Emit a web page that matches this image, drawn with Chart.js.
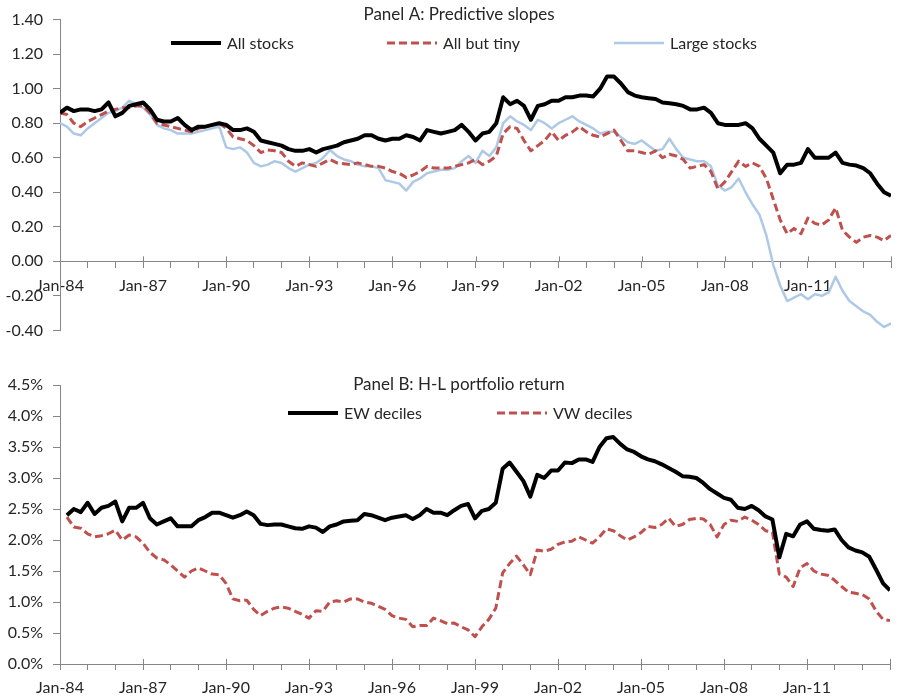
<!DOCTYPE html>
<html>
<head>
<meta charset="utf-8">
<script src="https://cdn.jsdelivr.net/npm/chart.js@4.4.1/dist/chart.umd.min.js"></script>
<style>
  body { margin: 0; background: #fff; }
  #wrap { position: relative; width: 900px; height: 700px; }
  canvas { position: absolute; left: 0; }
</style>
</head>
<body>
<div id="wrap">
  <canvas id="panel-a" width="900" height="350" style="top:0"></canvas>
  <canvas id="panel-b" width="900" height="345" style="top:355px"></canvas>
</div>
<script>
// Quarterly observations, Jan-84 through Jan-14
const START_YEAR = 1984;
const STEP = 0.25;
const xTickLabels = ['Jan-84', 'Jan-87', 'Jan-90', 'Jan-93', 'Jan-96', 'Jan-99', 'Jan-02', 'Jan-05', 'Jan-08', 'Jan-11'];

// Panel A: predictive slopes
const allStocks = [
  0.86, 0.89, 0.87, 0.88,  0.88, 0.87, 0.88, 0.92,  0.84, 0.86, 0.90, 0.91,
  0.92, 0.88, 0.82, 0.81,  0.81, 0.83, 0.79, 0.76,  0.78, 0.78, 0.79, 0.80,
  0.79, 0.76, 0.76, 0.77,  0.75, 0.70, 0.69, 0.68,  0.67, 0.65, 0.64, 0.64,
  0.65, 0.63, 0.65, 0.66,  0.67, 0.69, 0.70, 0.71,  0.73, 0.73, 0.71, 0.70,
  0.71, 0.71, 0.73, 0.72,  0.70, 0.76, 0.75, 0.74,  0.75, 0.76, 0.79, 0.75,
  0.70, 0.74, 0.75, 0.80,  0.95, 0.91, 0.93, 0.90,  0.82, 0.90, 0.91, 0.93,
  0.93, 0.95, 0.95, 0.96,  0.96, 0.955, 1.00, 1.07, 1.07, 1.03, 0.98, 0.96,
  0.95, 0.945, 0.94, 0.92, 0.915, 0.91, 0.90, 0.88, 0.88, 0.89, 0.86, 0.80,
  0.79, 0.79, 0.79, 0.80,  0.77, 0.71, 0.67, 0.63,  0.51, 0.56, 0.56, 0.57,
  0.65, 0.60, 0.60, 0.60,  0.63, 0.57, 0.56, 0.555, 0.54, 0.51, 0.45, 0.40,
  0.38
];
const allButTiny = [
  0.86, 0.85, 0.80, 0.78,  0.81, 0.83, 0.85, 0.87,  0.88, 0.89, 0.89, 0.90,
  0.90, 0.86, 0.80, 0.79,  0.78, 0.77, 0.76, 0.75,  0.77, 0.78, 0.79, 0.80,
  0.77, 0.72, 0.71, 0.70,  0.67, 0.63, 0.645, 0.64, 0.63, 0.58, 0.55, 0.57,
  0.56, 0.55, 0.57, 0.59,  0.57, 0.565, 0.56, 0.57, 0.56, 0.55, 0.55, 0.54,
  0.52, 0.51, 0.485, 0.50, 0.52, 0.55, 0.54, 0.54, 0.54, 0.55, 0.56, 0.57,
  0.59, 0.56, 0.58, 0.61,  0.74, 0.78, 0.77, 0.70,  0.64, 0.67, 0.70, 0.75,
  0.70, 0.73, 0.75, 0.78,  0.75, 0.73, 0.72, 0.74,  0.76, 0.70, 0.64, 0.64,
  0.63, 0.62, 0.64, 0.60,  0.62, 0.61, 0.59, 0.54,  0.55, 0.56, 0.52, 0.42,
  0.46, 0.52, 0.58, 0.55,  0.57, 0.55, 0.48, 0.36,  0.24, 0.16, 0.19, 0.16,
  0.25, 0.22, 0.21, 0.24,  0.31, 0.18, 0.14, 0.11,  0.14, 0.15, 0.14, 0.12,
  0.15
];
const largeStocks = [
  0.80, 0.78, 0.74, 0.73,  0.77, 0.80, 0.83, 0.86,  0.87, 0.89, 0.93, 0.91,
  0.89, 0.85, 0.79, 0.77,  0.76, 0.74, 0.74, 0.74,  0.75, 0.76, 0.77, 0.78,
  0.66, 0.65, 0.66, 0.63,  0.57, 0.55, 0.56, 0.58,  0.57, 0.54, 0.52, 0.54,
  0.56, 0.57, 0.60, 0.645, 0.61, 0.59, 0.58, 0.56,  0.55, 0.55, 0.54, 0.47,
  0.46, 0.45, 0.41, 0.46,  0.48, 0.51, 0.52, 0.53,  0.53, 0.54, 0.58, 0.61,
  0.57, 0.64, 0.61, 0.66,  0.80, 0.84, 0.81, 0.79,  0.76, 0.82, 0.80, 0.77,
  0.80, 0.82, 0.84, 0.81,  0.79, 0.77, 0.74, 0.75,  0.75, 0.72, 0.69, 0.68,
  0.70, 0.67, 0.64, 0.65,  0.71, 0.65, 0.60, 0.59,  0.58, 0.58, 0.55, 0.44,
  0.41, 0.43, 0.48, 0.40,  0.33, 0.27, 0.15, -0.02, -0.14, -0.23, -0.21, -0.19,
  -0.22, -0.19, -0.20, -0.18, -0.09, -0.17, -0.23, -0.26, -0.29, -0.31, -0.35, -0.38,
  -0.36
];

// Panel B: H-L portfolio return, % per month
const ewDeciles = [
  null, 2.40, 2.50, 2.45,  2.60, 2.42, 2.52, 2.55,  2.62, 2.30, 2.52, 2.52,
  2.60, 2.35, 2.25, 2.30,  2.35, 2.22, 2.22, 2.22,  2.32, 2.37, 2.44, 2.44,
  2.40, 2.36, 2.40, 2.46,  2.40, 2.26, 2.24, 2.25,  2.25, 2.22, 2.19, 2.18,
  2.22, 2.20, 2.13, 2.22,  2.25, 2.30, 2.31, 2.32,  2.42, 2.40, 2.36, 2.32,
  2.36, 2.38, 2.40, 2.34,  2.40, 2.50, 2.44, 2.44,  2.40, 2.48, 2.55, 2.58,
  2.35, 2.47, 2.50, 2.60,  3.15, 3.25, 3.10, 2.95,  2.70, 3.05, 3.00, 3.12,
  3.12, 3.25, 3.24, 3.30,  3.30, 3.26, 3.50, 3.64,  3.66, 3.55, 3.46, 3.42,
  3.35, 3.30, 3.27, 3.22,  3.16, 3.10, 3.03, 3.02,  3.00, 2.92, 2.82, 2.75,
  2.68, 2.65, 2.52, 2.50,  2.55, 2.48, 2.38, 2.33,  1.72, 2.10, 2.06, 2.25,
  2.30, 2.18, 2.16, 2.15,  2.17, 2.00, 1.88, 1.83,  1.80, 1.73, 1.52, 1.30,
  1.19
];
const vwDeciles = [
  null, 2.37, 2.21, 2.19,  2.10, 2.05, 2.07, 2.10,  2.16, 2.00, 2.08, 2.05,
  1.95, 1.80, 1.71, 1.68,  1.60, 1.50, 1.40, 1.50,  1.55, 1.50, 1.45, 1.44,
  1.30, 1.05, 1.02, 1.03,  0.88, 0.78, 0.85, 0.90,  0.92, 0.90, 0.85, 0.80,
  0.74, 0.86, 0.85, 1.00,  1.02, 1.00, 1.05, 1.05,  1.00, 0.98, 0.93, 0.88,
  0.78, 0.74, 0.72, 0.60,  0.62, 0.62, 0.74, 0.70,  0.65, 0.66, 0.60, 0.55,
  0.44, 0.60, 0.72, 0.90,  1.47, 1.62, 1.74, 1.60,  1.44, 1.84, 1.82, 1.85,
  1.93, 1.97, 1.98, 2.05,  2.00, 1.95, 2.05, 2.18,  2.15, 2.07, 2.00, 2.05,
  2.12, 2.22, 2.20, 2.25,  2.35, 2.22, 2.25, 2.33,  2.35, 2.34, 2.25, 2.05,
  2.25, 2.32, 2.30, 2.37,  2.32, 2.25, 2.15, 2.13,  1.45, 1.40, 1.25, 1.55,
  1.62, 1.50, 1.45, 1.43,  1.35, 1.25, 1.16, 1.14,  1.12, 1.05, 0.85, 0.72,
  0.70
];

const FONT = { family: 'Lato', size: 16 };
const TEXT = '#262626';
const AXIS = '#868686';

function toPoints(values) {
  return values.map((v, i) => ({ x: START_YEAR + i * STEP, y: v }));
}

function xTick(value) {
  const idx = (value - START_YEAR) / 3;
  return Number.isInteger(idx) && idx < xTickLabels.length ? xTickLabels[idx] : '';
}

// Title and legend sit inside the plot area, as in the spreadsheet original.
// Major x ticks also cross the axis line.
const overlayPlugin = {
  id: 'overlay',
  afterDraw(chart, args, opts) {
    const ctx = chart.ctx;
    const xs = chart.scales.x;
    const axisY = opts.axisAtZero ? chart.scales.y.getPixelForValue(0) : chart.chartArea.bottom;
    ctx.save();
    ctx.strokeStyle = AXIS;
    ctx.lineWidth = 1;
    for (let yr = START_YEAR; yr <= xs.max; yr += 3) {
      const px = Math.round(xs.getPixelForValue(yr)) + 0.5;
      ctx.beginPath();
      ctx.moveTo(px, axisY - 5);
      ctx.lineTo(px, axisY);
      ctx.stroke();
    }
    ctx.font = '17px Lato';
    ctx.fillStyle = TEXT;
    ctx.textBaseline = 'middle';
    ctx.textAlign = 'center';
    ctx.fillText(opts.title, opts.titleX, opts.titleY);
    ctx.font = '16px Lato';
    ctx.textAlign = 'left';
    chart.data.datasets.forEach((ds, i) => {
      const x0 = opts.legendX[i];
      ctx.strokeStyle = ds.borderColor;
      ctx.lineWidth = ds.borderWidth;
      ctx.setLineDash(ds.borderDash || []);
      ctx.beginPath();
      ctx.moveTo(x0, opts.legendY);
      ctx.lineTo(x0 + 50, opts.legendY);
      ctx.stroke();
      ctx.setLineDash([]);
      ctx.fillText(ds.label, x0 + 56, opts.legendY + 1);
    });
    ctx.restore();
  }
};

function lineSet(label, values, color, width, dash) {
  return {
    label: label,
    data: toPoints(values),
    borderColor: color,
    borderWidth: width,
    borderDash: dash,
    borderJoinStyle: 'round',
    pointRadius: 0,
    tension: 0,
    fill: false
  };
}

function xScale(position, padding) {
  return {
    type: 'linear',
    position: position,
    min: 1984,
    max: 2014,
    border: { color: AXIS, width: 1 },
    grid: { drawOnChartArea: false, drawTicks: true, tickLength: 6, color: AXIS },
    ticks: {
      stepSize: 1, autoSkip: false, maxRotation: 0, padding: padding,
      color: TEXT, font: FONT, callback: xTick
    }
  };
}

function yScale(min, max, step, fmt) {
  return {
    min: min,
    max: max,
    border: { color: AXIS, width: 1 },
    grid: { drawOnChartArea: false, drawTicks: true, tickLength: 7, color: AXIS },
    ticks: {
      stepSize: step, padding: 10, color: TEXT, font: FONT,
      callback: v => fmt(Math.abs(v) < 1e-9 ? 0 : v)
    },
    afterFit: scale => { scale.width = 60; }
  };
}

new Chart(document.getElementById('panel-a'), {
  type: 'line',
  data: {
    datasets: [
      lineSet('All stocks', allStocks, '#000000', 4, []),
      lineSet('All but tiny', allButTiny, '#c0504d', 3, [8, 4]),
      lineSet('Large stocks', largeStocks, '#adc9e6', 2.5, [])
    ]
  },
  options: {
    responsive: false,
    animation: false,
    layout: { padding: { top: 13, bottom: 18, left: 0, right: 2 } },
    plugins: {
      legend: { display: false },
      tooltip: { enabled: false },
      overlay: {
        title: 'Panel A: Predictive slopes', titleX: 459, titleY: 15,
        legendX: [171, 387, 614], legendY: 43, axisAtZero: true
      }
    },
    scales: {
      x: xScale({ y: 0 }, 9),
      y: yScale(-0.4, 1.4, 0.2, v => v.toFixed(2))
    }
  },
  plugins: [overlayPlugin]
});

new Chart(document.getElementById('panel-b'), {
  type: 'line',
  data: {
    datasets: [
      lineSet('EW deciles', ewDeciles, '#000000', 4, []),
      lineSet('VW deciles', vwDeciles, '#c0504d', 3, [8, 4])
    ]
  },
  options: {
    responsive: false,
    animation: false,
    layout: { padding: { top: 30, bottom: 0, left: 0, right: 10 } },
    plugins: {
      legend: { display: false },
      tooltip: { enabled: false },
      overlay: {
        title: 'Panel B: H-L portfolio return', titleX: 459, titleY: 30,
        legendX: [288, 497], legendY: 58, axisAtZero: false
      }
    },
    scales: {
      x: Object.assign(xScale('bottom', 8), { afterFit: scale => { scale.height = 36; } }),
      y: yScale(0, 4.5, 0.5, v => v.toFixed(1) + '%')
    }
  },
  plugins: [overlayPlugin]
});
</script>
</body>
</html>
